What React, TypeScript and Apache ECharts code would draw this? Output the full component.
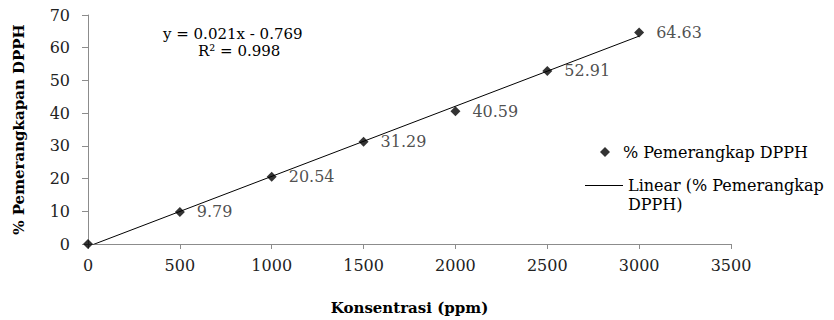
import React, { useEffect, useRef } from "react";
import * as echarts from "echarts";

const concentrations = [0, 500, 1000, 1500, 2000, 2500, 3000];
const scavenging = [0, 9.79, 20.54, 31.29, 40.59, 52.91, 64.63];
const trendX = [0, 3000];
const trendY = [-0.77, 63.55];
const equationText = "y = 0.021x - 0.769";
const r2Text = "R² = 0.998";
const scatterName = "% Pemerangkap DPPH";
const trendName = "Linear (% Pemerangkap\nDPPH)";
const xTitle = "Konsentrasi (ppm)";
const yTitle = "% Pemerangkapan DPPH";

const FONT = "DejaVu Serif";

export default function App() {
  const ref = useRef<HTMLDivElement>(null);
  useEffect(() => {
    document.body.style.margin = "0";
    if (!ref.current) return;
    const chart = echarts.init(ref.current, undefined, { renderer: "svg" });
    const scatterData = concentrations.map((x, i) => [x, scavenging[i]]);
    const trendData = trendX.map((x, i) => [x, trendY[i]]);
    chart.setOption({
      animation: false,
      backgroundColor: "#ffffff",
      textStyle: { fontFamily: FONT },
      grid: { left: 88, right: 103, top: 15, bottom: 76 },
      xAxis: {
        type: "value",
        min: 0,
        max: 3500,
        interval: 500,
        name: xTitle,
        nameLocation: "middle",
        nameGap: 56,
        nameTextStyle: { fontFamily: FONT, fontWeight: "bold", fontSize: 15, color: "#000" },
        axisLine: { lineStyle: { color: "#8c8c8c", width: 1 } },
        axisTick: { show: true, length: 5, inside: false, lineStyle: { color: "#8c8c8c" } },
        axisLabel: {
          fontFamily: FONT,
          fontSize: 16,
          color: "#222",
          margin: 13,
          formatter: (v: number) => String(v),
        },
        splitLine: { show: false },
      },
      yAxis: {
        type: "value",
        min: 0,
        max: 70,
        interval: 10,
        name: yTitle,
        nameLocation: "middle",
        nameGap: 62,
        nameRotate: 90,
        nameTextStyle: { fontFamily: FONT, fontWeight: "bold", fontSize: 15, color: "#000" },
        axisLine: { show: true, lineStyle: { color: "#8c8c8c", width: 1 } },
        axisTick: { show: true, length: 6, inside: false, lineStyle: { color: "#8c8c8c" } },
        axisLabel: {
          fontFamily: FONT,
          fontSize: 16,
          color: "#222",
          margin: 18,
          formatter: (v: number) => String(v),
        },
        splitLine: { show: false },
      },
      legend: [
        {
          data: [{ name: scatterName, icon: "diamond" }],
          left: 595,
          top: 139,
          itemWidth: 10,
          itemHeight: 10,
          textStyle: {
            fontFamily: FONT,
            fontSize: 16,
            color: "#000",
            padding: [0, 0, 0, 8],
          },
        },
        {
          data: [{ name: trendName, icon: "rect", itemStyle: { color: "#000" } }],
          left: 580,
          top: 152,
          itemWidth: 38,
          itemHeight: 1,
          formatter: (name: string) => "\n" + name,
          textStyle: {
            fontFamily: FONT,
            fontSize: 16,
            color: "#000",
            lineHeight: 19,
          },
        },
      ],
      series: [
        {
          name: trendName,
          type: "line",
          data: trendData,
          showSymbol: false,
          symbol: "none",
          lineStyle: { color: "#000", width: 1 },
          itemStyle: { color: "#000" },
          z: 1,
        },
        {
          name: scatterName,
          type: "scatter",
          data: scatterData,
          symbol: "diamond",
          symbolSize: 10,
          itemStyle: { color: "#000" },
          label: {
            show: true,
            position: "right",
            distance: 12,
            fontFamily: FONT,
            fontSize: 16,
            color: "#222",
            formatter: (p: any) => (p.dataIndex === 0 ? "" : p.value[1].toFixed(2)),
          },
          z: 3,
        },
      ],
      graphic: [
        {
          type: "text",
          left: 163,
          top: 26,
          style: { text: equationText, font: `15px "${FONT}"`, fill: "#000" },
        },
        {
          type: "text",
          left: 198,
          top: 43,
          style: { text: r2Text, font: `15px "${FONT}"`, fill: "#000" },
        },
      ],
    });
    return () => chart.dispose();
  }, []);
  return (
    <div
      ref={ref}
      style={{ position: "absolute", left: 0, top: 0, width: 834, height: 320 }}
    />
  );
}
